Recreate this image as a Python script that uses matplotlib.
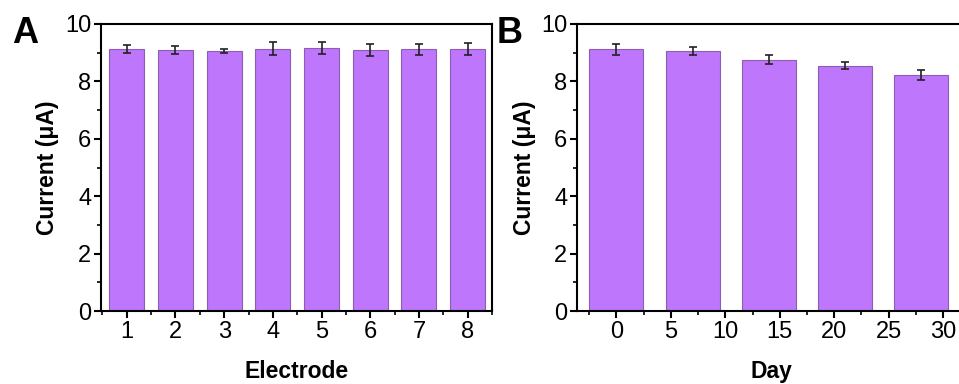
import matplotlib
matplotlib.use("Agg")
import matplotlib.pyplot as plt
from matplotlib.ticker import MultipleLocator

plt.rcParams['font.family'] = ['Liberation Sans', 'DejaVu Sans']

electrodes = [1, 2, 3, 4, 5, 6, 7, 8]
current_a = [9.12, 9.08, 9.06, 9.14, 9.18, 9.09, 9.12, 9.13]
err_a = [0.14, 0.14, 0.08, 0.23, 0.21, 0.20, 0.20, 0.22]

days = [0, 7, 14, 21, 28]
current_b = [9.12, 9.06, 8.76, 8.54, 8.22]
err_b = [0.20, 0.15, 0.15, 0.12, 0.17]

bar_color = '#BE76FC'
edge_color = '#8C5FAE'

fig = plt.figure(figsize=(9.59, 3.84), dpi=100)
axA = fig.add_axes([0.1053, 0.190, 0.4077, 0.7475])
axB = fig.add_axes([0.6017, 0.190, 0.4046, 0.7475])

def style(ax):
    for s in ax.spines.values():
        s.set_linewidth(1.5)
    ax.tick_params(axis='both', which='major', direction='out', length=5, width=1.5,
                   labelsize=17, pad=2)
    ax.tick_params(axis='both', which='minor', direction='out', length=3, width=1.2)
    ax.set_ylim(0, 10)
    ax.yaxis.set_major_locator(MultipleLocator(2))
    ax.yaxis.set_minor_locator(MultipleLocator(1))
    ax.set_ylabel('Current (μA)', fontsize=16.5, fontweight='bold', labelpad=4)

axA.bar(electrodes, current_a, width=0.72, color=bar_color, edgecolor=edge_color, linewidth=0.8,
        yerr=err_a, error_kw=dict(ecolor='#222222', elinewidth=1.2, capsize=3, capthick=1.2))
axA.set_xlim(0.47, 8.5)
axA.set_xticks(electrodes)
axA.xaxis.set_minor_locator(MultipleLocator(0.5))
style(axA)
axA.set_xlabel('Electrode', fontsize=16.5, fontweight='bold', labelpad=12.5)

axB.bar(days, current_b, width=4.95, color=bar_color, edgecolor=edge_color, linewidth=0.8,
        yerr=err_b, error_kw=dict(ecolor='#222222', elinewidth=1.2, capsize=3, capthick=1.2))
axB.set_xlim(-3.6, 32.0)
axB.set_xticks([0, 5, 10, 15, 20, 25, 30])
axB.xaxis.set_minor_locator(MultipleLocator(2.5))
style(axB)
axB.set_xlabel('Day', fontsize=16.5, fontweight='bold', labelpad=12.5)

fig.text(0.026, 0.914, 'A', fontsize=26, fontweight='bold', ha='center', va='center')
fig.text(0.531, 0.914, 'B', fontsize=26, fontweight='bold', ha='center', va='center')

fig.savefig('out.png', dpi=100)
